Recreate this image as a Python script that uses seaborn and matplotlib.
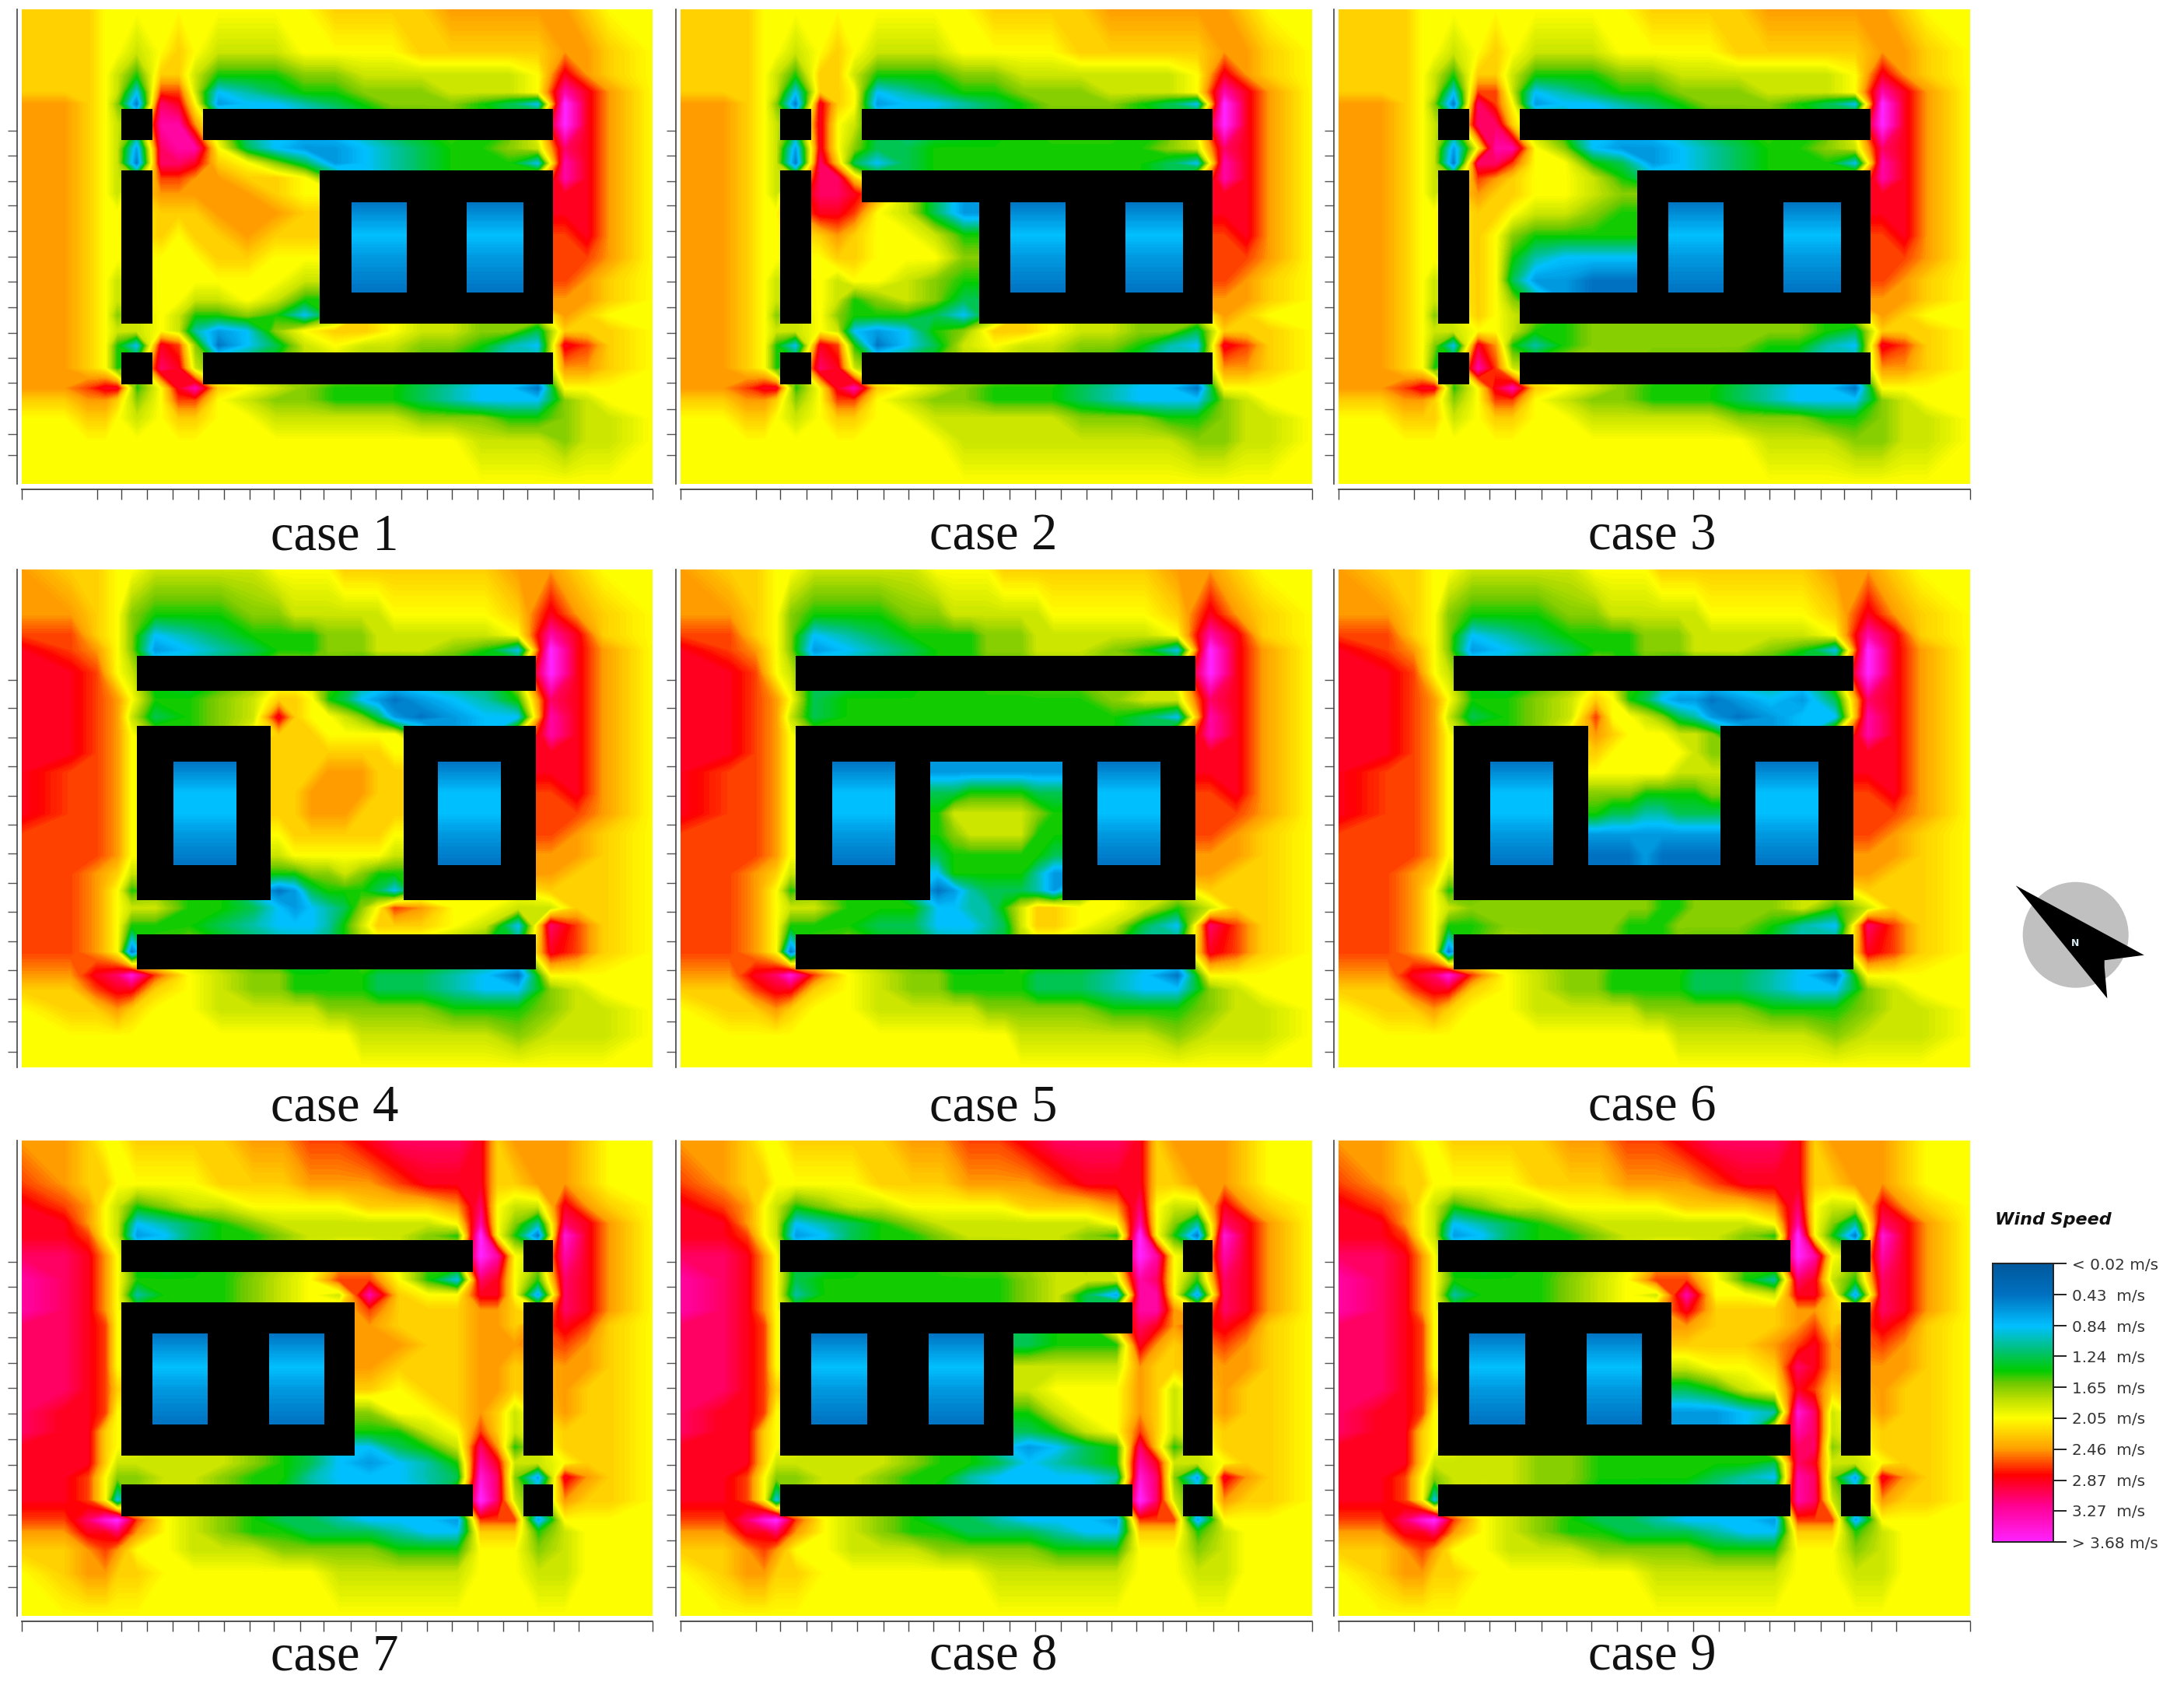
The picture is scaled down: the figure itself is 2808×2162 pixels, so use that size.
import numpy as np
import matplotlib
matplotlib.use('Agg')
import matplotlib.pyplot as plt
import seaborn as sns
from matplotlib.colors import LinearSegmentedColormap, ListedColormap
from matplotlib.patches import Ellipse, Polygon

W, H = 2808, 2162
DPI = 200

# wind speed, one letter per grid cell, '#' = building
LETTERS = 'abcdefghijklmnopqrs'
SPEEDS = [0.02, 0.23, 0.43, 0.64, 0.84, 1.04, 1.24, 1.45, 1.65, 1.85, 2.05,
          2.25, 2.46, 2.66, 2.87, 3.07, 3.27, 3.47, 3.68]

CASE_1 = [
    "lllkkkkkkkkkkllllmmmmmlkk", "lllkkjklkjjjkkkklllllmmlk", "lllkjhlljhhhiijjjjjjkomlk",
    "lllkjennjefghhiiijjjkqomk", "mmlkicpokdeefghiiihgesomk", "mmlkj#qqm############somk",
    "mmlkjdpqqkgeddefghhijpomk", "mmlkjcppolkigdefghhheqomk", "mmlkj#nnmmllk########qomk",
    "mmlkj#mmmmmlk########oomk", "mmlkk#lllmmml#cc##cc#oomk", "mmlkk#lkllmll#ee##ee#nomk",
    "mmlkk#kkkllkk#dd##dd#nnmk", "mmlkj#kkkkkkj#cc##cc#nmlk", "mmlkj#kkjjkjh########mmlk",
    "mmlki#kjhhihe########mlkk", "mmlkjjkjfdeikllkjjiiglllk", "mmlkheonicegjkjjiihfeonlk",
    "mmlkh#poj############mmlk", "mmnoohkoqlkjihhhgfeeckkkk", "llmmliknnkjiihhhgfeeeijkk",
    "kkllkjkllkkjjjjjiiihhijjk", "kkkkkkkkkkkkkkkkkkjjjijjk", "kkkkkkkkkkkkkkkkkkkkkkkkk",
]
CASE_2 = [
    "lllkkkkkkkkkkllllmmmmmlkk", "lllkkjklkjjjkkkklllllmmlk", "lllkjhlljhhhiijjjjjjkomlk",
    "lllkjellkefghhiiijjjkqomk", "mmlkicolkdeefghiiihgesomk", "mmlkj#okj############somk",
    "mmlkjdokigghhhhhhhhijpomk", "mmlkjcplgeghhhhhhhhgeqomk", "mmlkj#ppl############qomk",
    "mmlkj#ppo############oomk", "mmlkk#oonkjgd#cc##cc#oomk", "mmlkk#lmlkkjh#ee##ee#nomk",
    "mmlkk#kllkkki#dd##dd#nnmk", "mmlkj#kjkkjih#cc##cc#nmlk", "mmlkj#kjhijig########mmlk",
    "mmlki#kihhhge########mlkk", "mmlkjjkjedehillkjjiiglllk", "mmlkheonhcegjkjjiihfeonlk",
    "mmlkh#poj############mmlk", "mmnoohkoqlkjihhhgfeeckkkk", "llmmliknnkjiihhhgfeeeijkk",
    "kkllkjkllkkjjjjjiiihhijjk", "kkkkkkkkkkkkjjjjjjjjiijjk", "kkkkkkkkkkkkkkkkkkkkkkkkk",
]
CASE_3 = [
    "lllkkkkkkkkkkllllmmmmmlkk", "lllkkjklkjjjkkkklllllmmlk", "lllkjhlljhhhiijjjjjjkomlk",
    "lllkjennjefghhiiijjjkqomk", "mmlkicpnkdeefghiiihgesomk", "mmlkj#ppl############somk",
    "mmlkjdkqqkieddefghhijpomk", "mmlkjcppnkkhgdefghhheqomk", "mmlkj#nmlkkjh########qomk",
    "mmlkj#mllkkji########oomk", "mmlkk#llkjjih#cc##cc#oomk", "mmlkk#lkihhhh#ee##ee#nomk",
    "mmlkk#lkhfeee#dd##dd#nnmk", "mmlkj#lkgddcc#cc##cc#nmlk", "mmlkj#lki############mmlk",
    "mmlki#lkj############mlkk", "mmlkjjkkjhhiiiiiiiihglllk", "mmlkieomhfhiiiiiihhfeonlk",
    "mmlkh#qnj############mmlk", "mmnoohkoqlkjihhhgfeeckkkk", "llmmliknnkjiihhhgfeeeijkk",
    "kkllljkllkkjjjjjiiihhijjk", "kkkkkkkkkkkkkkkkkjjjiijjk", "kkkkkkkkkkkkkkkkkkkkkkkkk",
]
CASE_4 = [
    "mllkkjjjjkkkklllllllmmlkk",
    "mmlki hhhi ijjjjjjk kkkl omlk", "nnlki efgh hhhiiijj jjjk qolk",
    "onmki defg hhhiiijj jihe somk", "oonkj ################ somk",
    "oonmk hhij llkhgedc defh pomk", "oonmj ghij olkkjigd cdee qomk",
    "oonmk #### lllkkkkk #### qomk", "oonmk #### lllllllk #### oomk",
    "onnmk #cc# lllmmmll #cc# oomk", "onnmk #ee# llmmmmll #ee# nomk",
    "onnmk #ee# llmmmlll #ee# nnmk", "nnnmk #dd# kllllllk #dd# nmlk",
    "nnnmk #cc# jkkkkkkj #cc# mmlk", "nnmlj #### hhiijihh #### mllk",
    "nnmkh #### cdghhhge #### lllk", "nnmkj jhhg edefgikn mkkj jllk",
    "nnmkh hhgf eeefhjll lkje pnlk", "nnmkc ################ onlk",
    "mmopr nkji ihhhhhgg gfec kkkk", "llnoo lkji ihhhhhgg gfee ijkk",
    "kllml kkjj jjjiiiii ihhh ijjk", "kkkkk kkkk kkkkkjjj jjji jjjk",
    "kkkkk kkkk kkkkkkkk kkkk kkkk",
]
CASE_5 = [
    "mllkkjjjjkkkklllllllmmlkk",
    "mmlki hhhi ijjjjjjk kkkl omlk", "nnlki efgh hhhiiijj jjjk qolk",
    "onmki defg hhhiiijj jihe somk", "oonkj ################ somk",
    "oonmk ghhh hhhhhhhh hijj pomk", "oonmj ghhh hhhhhhhh hhge qomk",
    "oonmk ################ qomk", "oonmk ################ oomk",
    "onnmk #cc# dddddddd #cc# oomk", "onnmk #ee# gghhhhgg #ee# nomk",
    "onnmk #ee# hjjjjjih #ee# nnmk", "nnnmk #dd# hijjjjhh #dd# nmlk",
    "nnnmk #cc# ghhhhhhg #cc# mmlk", "nnmlj #### ehhhhhfd #### mllk",
    "nnmkh #### cdfgggfd #### lllk", "nnmkj jhhh eeffhjll kkjh jllk",
    "nnmkh hhgg eeefgjll kjge pnlk", "nnmkc ################ onlk",
    "mmopr nkji ihhhhhgg gfec kkkk", "llnoo lkji ihhhhhgg gfee ijkk",
    "kllml kkjj jjjiiiii ihhh ijjk", "kkkkk kkkk kkkkkjjj jjji jjjk",
    "kkkkk kkkk kkkkkkkk kkkk kkkk",
]
CASE_6 = [
    "mllkkjjjjkkkklllllllmmlkk",
    "mmlki hhhi ijjjjjjk kkkl omlk", "nnlki efgh hhhiiijj jjjk qolk",
    "onmki defg hhhiiijj jihe somk", "oonkj ################ somk",
    "oonmk hhij lkhgeddc dedg pomk", "oonmj ghij nkkjigfd cdee qomk",
    "oonmk #### mlkkkjji #### qomk", "oonmk #### lkkkkkji #### oomk",
    "onnmk #cc# kkkkkjjj #cc# oomk", "onnmk #ee# iiihhhhi #ee# nomk",
    "onnmk #ee# hggffggg #ee# nnmk", "nnnmk #dd# dddddddd #dd# nmlk",
    "nnnmk #cc# cccdcccc #cc# mmlk", "nnmlj ################ mllk",
    "nnmkh ################ lllk", "nnmkj iiii iiiihhii iijh jllk",
    "nnmkh hiii iihhhiii ihfe pnlk", "nnmkc ################ onlk",
    "mmopr nkji ihhhhhgg gfec kkkk", "llnoo lkji ihhhhhgg gfee ijkk",
    "kllml kkjj jjjiiiii ihhh ijjk", "kkkkk kkkk kkkkkjjj jjji jjjk",
    "kkkkk kkkk kkkkkkkk kkkk kkkk",
]
CASE_7 = [
    "mmlkk l ll lm mn n oppp olm m mlkk", "nmllk k kk ll lm m mnoo oll m mlkk",
    "onmkj h ij jk kk k lllm pkj j omlk", "oomkj e fg hi jj j jjjk qki f pomk",
    "oonkj d eg hh ij j jjih skh c romk", "ppomk ############ sqk # qomk",
    "qpomk h hh hi jk n nkhe pok h pomk", "qpomk f hh hi jk j qlkk ook d pomk",
    "qpomk ######## nlll mml # pomk", "pponk ######## mlll mml # onlk",
    "pponk #cc##cc# mmll mmm # nmlk", "pponk #ee##ee# mlll mml # mmlk",
    "pponl #dd##dd# lkll mml # mllk", "poonk #cc##cc# ikkl mlj # mllk",
    "poolk ######## hhjk nlj # lllk", "ooolk ######## eghj pmh # lllk",
    "ooolj j jj ji hg e defh qoj j kllk", "oonki i jj ih hf e eefg rpi d omlk",
    "oonke ############ spj # mllk", "nnprs n kj ih gg f eeed nnn d kkkk",
    "mmoop m kj ih hg g gfee lll h jkkk", "llmnm k kj jj ii i ihhh kkk i jkkk",
    "klmml l kk kk kk j jjjj kkk j jkkk", "kkkkk k kk kk kk k kkkk kkk k kkkk",
]
CASE_8 = [
    "mmlkk l ll lm mn n oppp olm m mlkk", "nmllk k kk ll lm m mnoo oll m mlkk",
    "onmkj h ij jk kk k lllm pkj j omlk", "oomkj e fg hi jj j jjjk qki f pomk",
    "oonkj d eg hh ij j jjih skh c romk", "ppomk ############ sqk # qomk",
    "qpomk g hh hh hh h ijjj qpk h pomk", "qpomk f hh hh hh h ijgd qqk d pomk",
    "qpomk ############ qqm # pomk", "pponk ############ pom # onlk",
    "pponk #cc##cc# ghhh oml # nmlk", "pponk #ee##ee# jjjj mll # mmlk",
    "pponl #dd##dd# jkkk mlj # mllk", "poonk #cc##cc# hjkk mlj # mllk",
    "poolk ######## ghjk nlj # lllk", "ooolk ######## degh plh # lllk",
    "ooolj j jj ji hh g efgh qoj j kllk", "oonki i jj ih hf e eeef rpi d omlk",
    "oonke ############ spj # mllk", "nnprs n kj ih gg f eeed nnn d kkkk",
    "mmoop m kj ih hg g gfee lll h jkkk", "llmnm k kj jj ii i ihhh kkk i jkkk",
    "klmml l kk kk kk j jjjj kkk j jkkk", "kkkkk k kk kk kk k kkkk kkk k kkkk",
]
CASE_9 = [
    "mmlkk l ll lm mn n oppp olm m mlkk", "nmllk k kk ll lm m mnoo oll m mlkk",
    "onmkj h ij jk kk k lllm pkj j omlk", "oomkj e fg hi jj j jjjk qki f pomk",
    "oonkj d eg hh ij j jjih skh c romk", "ppomk ############ sqk # qomk",
    "qpomk h hh hi jk n nkhf poj h pomk", "qpomk f hh hi jk j qkkj ool d pomk",
    "qpomk ######## olll mml # pomk", "pponk ######## mlll mnl # onlk",
    "pponk #cc##cc# lllm nom # nmlk", "pponk #ee##ee# jkkl pom # mmlk",
    "pponl #dd##dd# ghjk onl # mllk", "poonk #cc##cc# ddef rpj # mllk",
    "poolk ############ qpj # lllk", "ooolk ############ ppi # lllk",
    "ooolj j jj ii hh h hhhg poj j kllk", "oonki j jj ii hh h hgfe qpi d omlk",
    "oonke ############ qpj # mllk", "nnprs n kj ih gg f eeed nnn d kkkk",
    "mmoop m kj ih hg g gfee lll h jkkk", "llmnm k kj jj ii i ihhh kkk i jkkk",
    "klmml l kk kk kk j jjjj kkk j jkkk", "kkkkk k kk kk kk k kkkk kkk k kkkk",
]

# telescoped model grid, as fractions of the panel
COLS_ROW1 = [0, .046, .089, .119, .144, .158, .207, .235, .262, .288, .334, .380, .426, .472,
             .522, .565, .609, .657, .706, .750, .794, .843, .880, .913, .950, 1]
COLS_ROW2 = [0, .055, .100, .137, .166, .183, .239, .289, .339, .3946, .421, .447, .473, .5,
             .526, .552, .578, .605, .661, .711, .761, .816, .863, .897, .944, 1]
COLS_ROW3 = [0, .046, .089, .119, .144, .158, .208, .251, .295, .343, .392, .436, .480, .528,
             .574, .620, .667, .714, .740, .767, .794, .843, .880, .913, .950, 1]
ROWS_OUTER = [0, .064, .117, .160, .190, .2105, .278, .309, .340, .373, .406, .453, .5, .548,
              .5955, .628, .6617, .692, .723, .789, .808, .839, .883, .936, 1]
ROWS_MIDDLE = [0, .068, .115, .150, .1735, .2437, .279, .314, .35, .385, .427, .469, .51, .552,
               .5935, .628, .663, .698, .7326, .8036, .828, .860, .907, .968, 1]

# model cells of the two enclosed courtyards in each row of panels
COURT_COLS = [[(14, 16), (18, 20)], [(6, 8), (18, 20)], [(6, 8), (10, 12)]]
COURT_ROWS = [(10, 14), (9, 14), (10, 14)]

X_TICKS = [0, .119, .158, .199, .239, .280, .321, .361, .400, .441, .479, .521, .561, .602,
           .643, .682, .722, .763, .801, .843, .883, 1]
Y_TICKS_OUTER = [.256, .308, .362, .414, .468, .521, .574, .628, .682, .735, .787, .842, .895, .94]
Y_TICKS_MIDDLE = [.222, .278, .337, .396, .454, .513, .570, .629, .687, .747, .804, .862, .908, .968]

LEGEND_TICKS = [0.02, 0.43, 0.84, 1.24, 1.65, 2.05, 2.46, 2.87, 3.27, 3.68]
LEGEND_LABELS = ['< 0.02 m/s', '0.43  m/s', '0.84  m/s', '1.24  m/s', '1.65  m/s',
                 '2.05  m/s', '2.46  m/s', '2.87  m/s', '3.27  m/s', '> 3.68 m/s']

PANEL_X = [(28, 839), (875, 1687), (1721, 2533)]
PANEL_Y = [(11.5, 622), (732, 1372), (1466, 2077)]
CAPTION_X = [430, 1277, 2124]
CAPTION_Y = [690, 1424, 2130]

CASES = [CASE_1, CASE_2, CASE_3, CASE_4, CASE_5, CASE_6, CASE_7, CASE_8, CASE_9]
NX, NY = 400, 300

wind_cmap = LinearSegmentedColormap.from_list('wind', [
    (0.00, '#00589c'), (0.11, '#0070c0'), (0.225, '#00c0ff'), (0.30, '#00c088'),
    (0.385, '#00cc00'), (0.43, '#70c800'), (0.49, '#c0e000'), (0.555, '#ffff00'),
    (0.665, '#ffa000'), (0.76, '#ff0000'), (0.87, '#ff0090'), (1.00, '#ff22ff')])
black = ListedColormap(['black'])


def read_cells(rows, n_col):
    cells = []
    for row in rows:
        row = row.replace(' ', '')
        row = (row + row[-1] * n_col)[:n_col]
        cells.append([np.nan if c == '#' else SPEEDS[LETTERS.index(c)] for c in row])
    return np.array(cells)


def stretch(cells, x_edges, y_edges):
    # each model cell repeated to its real width on the page
    col_w = np.diff(x_edges).astype(int)
    row_w = np.diff(y_edges).astype(int)
    return np.repeat(np.repeat(cells, row_w, axis=0), col_w, axis=1)


def under_buildings(cells):
    # contour needs a number under the roofs, the black layer hides it anyway
    out = cells.copy()
    while np.isnan(out).any():
        pad = np.pad(out, 1, constant_values=np.nan)
        near = np.stack([pad[:-2, 1:-1], pad[2:, 1:-1], pad[1:-1, :-2], pad[1:-1, 2:]])
        seen = ~np.isnan(near)
        total = np.where(seen, near, 0).sum(axis=0)
        count = seen.sum(axis=0)
        todo = np.isnan(out) & (count > 0)
        out[todo] = total[todo] / count[todo]
    return out


def px_axes(x0, y0, x1, y1):
    return fig.add_axes([x0 / W, 1 - y1 / H, (x1 - x0) / W, (y1 - y0) / H])


fig = plt.figure(figsize=(W / DPI, H / DPI), dpi=DPI)
cax = px_axes(2562, 1624, 2640, 1982)
levels = np.linspace(0.02, 3.68, 150)

for i, rows in enumerate(CASES):
    r, c = i // 3, i % 3
    xs = [COLS_ROW1, COLS_ROW2, COLS_ROW3][r]
    ys = ROWS_MIDDLE if r == 1 else ROWS_OUTER
    x_edges = np.round(np.array(xs) * NX)
    y_edges = np.round(np.array(ys) * NY)
    cells = read_cells(rows, len(xs) - 1)
    grid = stretch(cells, x_edges, y_edges)

    ax = px_axes(PANEL_X[c][0], PANEL_Y[r][0], PANEL_X[c][1], PANEL_Y[r][1])
    sns.heatmap(grid, ax=ax, cmap=wind_cmap, vmin=0.02, vmax=3.68,
                xticklabels=False, yticklabels=False, cbar=i == 0,
                cbar_ax=cax if i == 0 else None,
                cbar_kws={'ticks': LEGEND_TICKS} if i == 0 else None)
    if i == 0:
        cb = ax.collections[0].colorbar
        cb.ax.invert_yaxis()
        cb.set_ticklabels(LEGEND_LABELS)
        cb.ax.tick_params(length=6, width=0.7, pad=2.5, labelsize=7.2, labelcolor='#333333', color='#222222')
        cb.outline.set_edgecolor('#222222')
        cb.outline.set_linewidth(0.7)

    # same cell values, shaded smoothly like the simulation software does
    xc = (x_edges[:-1] + x_edges[1:]) / 2
    yc = (y_edges[:-1] + y_edges[1:]) / 2
    xc[0], xc[-1], yc[0], yc[-1] = 0, NX, 0, NY
    outside = cells.copy()
    r0, r1 = COURT_ROWS[r]
    for c0, c1 in COURT_COLS[r]:
        outside[r0:r1, c0:c1] = np.nan
    ax.contourf(xc, yc, under_buildings(outside), levels=levels, cmap=wind_cmap, extend='both')

    # courtyards shaded on their own so the outside wind does not leak in
    for c0, c1 in COURT_COLS[r]:
        court_y = yc[r0:r1].copy()
        court_y[0], court_y[-1] = y_edges[r0] - 1, y_edges[r1] + 1
        court_x = np.array([x_edges[c0] - 1, x_edges[c1] + 1])
        ax.contourf(court_x, court_y, cells[r0:r1, c0:c1], levels=levels, cmap=wind_cmap, extend='both')

    sns.heatmap(np.ones_like(grid), mask=~np.isnan(grid), ax=ax, cmap=black, cbar=False,
                xticklabels=False, yticklabels=False)

    y_ticks = Y_TICKS_MIDDLE if r == 1 else Y_TICKS_OUTER
    ax.set_yticks(np.array(y_ticks) * NY)
    ax.tick_params(axis='y', left=True, length=4.5, width=0.5, color='#555555', labelleft=False)
    ax.spines['left'].set_visible(True)
    ax.spines['left'].set_position(('outward', 2.0))
    ax.spines['left'].set_color('#444444')
    ax.spines['left'].set_linewidth(0.6)
    if r != 1:
        ax.set_xticks(np.array(X_TICKS) * NX)
        ax.tick_params(axis='x', bottom=True, length=4.5, width=0.5, color='#444444', labelbottom=False)
        ax.spines['bottom'].set_visible(True)
        ax.spines['bottom'].set_position(('outward', 2.5))
        ax.spines['bottom'].set_color('#333333')
        ax.spines['bottom'].set_linewidth(0.6)
    else:
        ax.set_xticks([])

    fig.text(CAPTION_X[c] / W, 1 - CAPTION_Y[r] / H, f'case {i + 1}', family='Liberation Serif',
             fontsize=24, color='#111111', ha='center', va='center')

# north arrow and legend title, placed in pixels of the page
over = fig.add_axes([0, 0, 1, 1], zorder=5)
over.set_xlim(0, W)
over.set_ylim(H, 0)
over.axis('off')
over.add_patch(Ellipse((2668.7, 1201.7), 136, 136, color='#c0c0c0', lw=0))
over.add_patch(Polygon([(2591.7, 1138.3), (2756.7, 1227.7), (2705.7, 1234.3), (2705.7, 1243),
                        (2709.3, 1283.3)], closed=True, color='black', lw=0))
over.text(2668, 1212, 'N', color='#d8e8f0', fontsize=4.5, fontweight='bold', ha='center', va='center')
over.text(2565, 1568, 'Wind Speed', fontsize=8, fontweight='bold', fontstyle='italic',
          color='#111111', ha='left', va='center')

fig.savefig('out.png', dpi=DPI)
